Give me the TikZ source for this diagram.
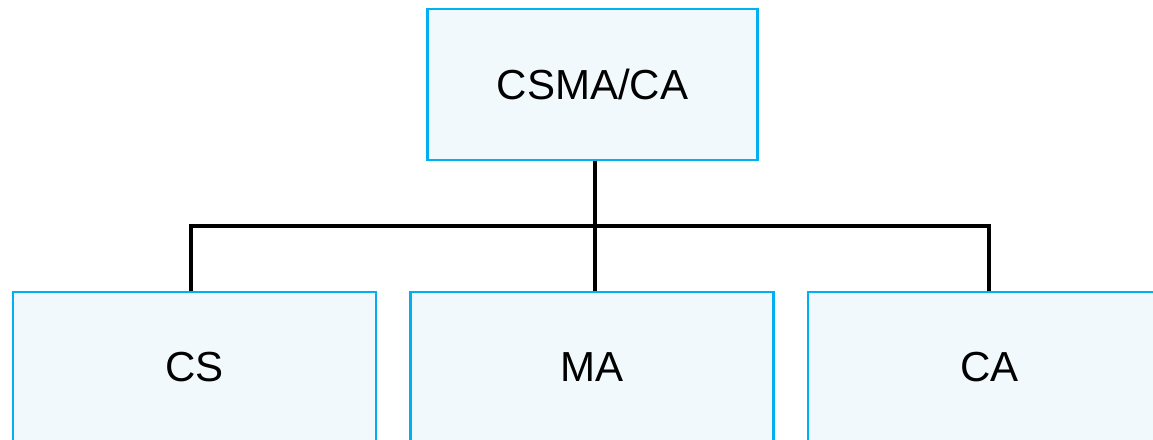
\documentclass[tikz,border=0pt]{standalone}
\usepackage{fontspec}
\setmainfont{Liberation Sans}
\usepackage{xcolor}
\definecolor{boxline}{RGB}{0,176,240}
\definecolor{boxfill}{RGB}{242,249,253}

\begin{document}
\begin{tikzpicture}[x=0.01cm,y=-0.01cm]
    \tikzstyle{rec} = [rectangle,draw=boxline,fill=boxfill,line width=0.75pt,minimum height=1.51cm,font=\fontsize{11.95}{14}\selectfont]
    \tikzstyle{link} = [line width=1pt,black]
    \useasboundingbox (0,0) rectangle (1153,440);
    \node [rec, minimum width=3.30cm] (csmaca) at (592.5,84.5) {CSMA/CA};
    \node [rec, minimum width=3.63cm] (cs) at (194.5,367.5) {CS};
    \node [rec, minimum width=3.63cm] (ma) at (592,367.5) {MA};
    \node [rec, minimum width=3.63cm] (ca) at (989.5,367.5) {CA};
    \coordinate (bar) at (595,226);
    \draw [link] (csmaca.south -| bar) -- (bar);
    \draw [link] ([xshift=-0.035cm]cs.north) |- (bar) -| ([xshift=-0.005cm]ca.north);
    \draw [link] (ma.north -| bar) -- (bar);
\end{tikzpicture}
\end{document}
